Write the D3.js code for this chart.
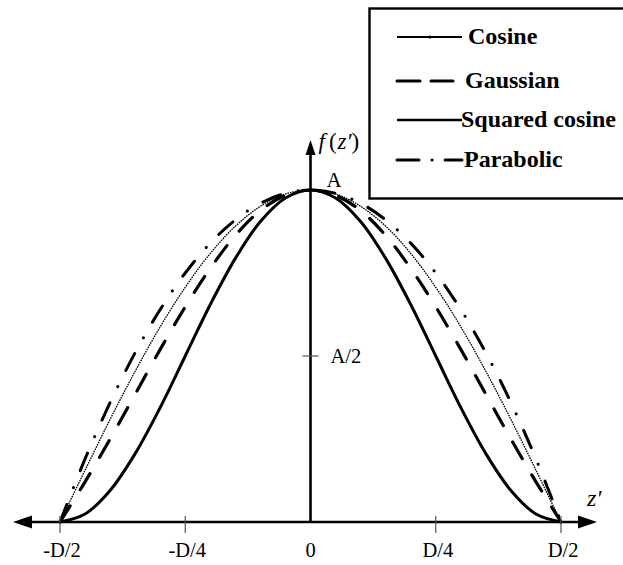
<!DOCTYPE html>
<html>
<head>
<meta charset="utf-8">
<script src="https://cdn.jsdelivr.net/npm/d3@7/dist/d3.min.js"></script>
<style>
  html, body { margin: 0; padding: 0; background: #fff; }
  svg { display: block; }
  text { font-family: "Liberation Serif", "Times New Roman", serif; fill: #000; }
</style>
</head>
<body>
<svg id="chart" width="623" height="565"></svg>
<script>
// Position across the layer, in units of D (from -D/2 to D/2)
const zPos = [-0.5, -0.45, -0.4, -0.35, -0.3, -0.25, -0.2, -0.15, -0.1, -0.05,
              0, 0.05, 0.1, 0.15, 0.2, 0.25, 0.3, 0.35, 0.4, 0.45, 0.5];

// Profile values, relative to the peak A
const cosineVals   = [0, 0.156, 0.309, 0.454, 0.588, 0.707, 0.809, 0.891, 0.951, 0.988,
                      1, 0.988, 0.951, 0.891, 0.809, 0.707, 0.588, 0.454, 0.309, 0.156, 0];
const gaussianVals = [0, 0.121, 0.250, 0.385, 0.520, 0.648, 0.764, 0.863, 0.938, 0.984,
                      1, 0.984, 0.938, 0.863, 0.764, 0.648, 0.520, 0.385, 0.250, 0.121, 0];
const sqCosineVals = [0, 0.024, 0.095, 0.206, 0.345, 0.500, 0.655, 0.794, 0.905, 0.976,
                      1, 0.976, 0.905, 0.794, 0.655, 0.500, 0.345, 0.206, 0.095, 0.024, 0];
const parabolicVals = [0, 0.19, 0.36, 0.51, 0.64, 0.75, 0.84, 0.91, 0.96, 0.99,
                       1, 0.99, 0.96, 0.91, 0.84, 0.75, 0.64, 0.51, 0.36, 0.19, 0];

const seriesNames = ["Cosine", "Gaussian", "Squared cosine", "Parabolic"];

// Axis ticks
const xTickVals   = [-0.5, -0.25, 0, 0.25, 0.5];
const xTickLabels = ["-D/2", "-D/4", "0", "D/4", "D/2"];
const yTickVals   = [0.5, 1];
const yTickLabels = ["A/2", "A"];

const svg = d3.select("#chart");

const x = d3.scaleLinear().domain([-0.5, 0.5]).range([60, 561]);
const y = d3.scaleLinear().domain([0, 1]).range([522, 190]);

const styles = {
  "Cosine":         { width: 1.3, dash: "1.6,0.9", cap: "butt" },
  "Gaussian":       { width: 3.2, dash: "19,19",   cap: "round" },
  "Squared cosine": { width: 3.0, dash: null,      cap: "round" },
  "Parabolic":      { width: 3.0, dash: "19,18,0.1,18", cap: "round" }
};

const seriesData = {
  "Cosine": cosineVals,
  "Gaussian": gaussianVals,
  "Squared cosine": sqCosineVals,
  "Parabolic": parabolicVals
};

const line = d3.line()
  .x(d => x(d[0]))
  .y(d => y(d[1]))
  .curve(d3.curveCatmullRom.alpha(0.5));

// Curves
const curves = svg.append("g").attr("class", "curves");
["Squared cosine", "Gaussian", "Parabolic", "Cosine"].forEach(name => {
  const st = styles[name];
  curves.append("path")
    .datum(zPos.map((z, i) => [z, seriesData[name][i]]))
    .attr("d", line)
    .attr("fill", "none")
    .attr("stroke", "#000")
    .attr("stroke-width", st.width)
    .attr("stroke-linecap", st.cap)
    .attr("stroke-dasharray", st.dash);
});

// Axes
const axes = svg.append("g").attr("class", "axes");
const x0 = x(0), yBase = y(0);
const xLeft = 13, xRight = 597, yTop = 140;

axes.append("line")
  .attr("x1", xLeft + 10).attr("x2", xRight - 10)
  .attr("y1", yBase).attr("y2", yBase)
  .attr("stroke", "#000").attr("stroke-width", 2.6);
axes.append("path")
  .attr("d", `M${xLeft},${yBase} L${xLeft + 19},${yBase - 6.5} L${xLeft + 19},${yBase + 6.5} Z`);
axes.append("path")
  .attr("d", `M${xRight},${yBase} L${xRight - 19},${yBase - 6.5} L${xRight - 19},${yBase + 6.5} Z`);

axes.append("line")
  .attr("x1", x0).attr("x2", x0)
  .attr("y1", yBase).attr("y2", yTop + 10)
  .attr("stroke", "#000").attr("stroke-width", 2.6);
axes.append("path")
  .attr("d", `M${x0},${yTop} L${x0 - 5},${yTop + 15} L${x0 + 5},${yTop + 15} Z`);

// X ticks and labels
xTickVals.forEach((v, i) => {
  if (v !== 0) {
    axes.append("line")
      .attr("x1", x(v)).attr("x2", x(v))
      .attr("y1", yBase - 6).attr("y2", yBase + 11)
      .attr("stroke", "#555").attr("stroke-width", 1.2);
  }
  axes.append("text")
    .attr("x", x(v) + (v === 0 ? 0 : 2))
    .attr("y", 557)
    .attr("text-anchor", "middle")
    .attr("font-size", 20.5)
    .text(xTickLabels[i]);
});

// Y ticks and labels
yTickVals.forEach((v, i) => {
  if (v !== 1) {
    axes.append("line")
      .attr("x1", x0 - 8).attr("x2", x0 + 8)
      .attr("y1", y(v)).attr("y2", y(v))
      .attr("stroke", "#555").attr("stroke-width", 1.2);
    axes.append("text")
      .attr("x", x0 + 20).attr("y", y(v) + 7)
      .attr("font-size", 20.5)
      .text(yTickLabels[i]);
  } else {
    axes.append("text")
      .attr("x", x0 + 16).attr("y", y(v) - 3)
      .attr("font-size", 21)
      .text(yTickLabels[i]);
  }
});

// Axis titles
const fz = axes.append("text")
  .attr("x", x0 + 8).attr("y", 149)
  .attr("font-size", 23);
fz.append("tspan").attr("font-style", "italic").text("f");
fz.append("tspan").attr("dx", 4).text("(");
fz.append("tspan").attr("font-style", "italic").attr("dx", 1).text("z′");
fz.append("tspan").text(")");

axes.append("text")
  .attr("x", 587).attr("y", 506)
  .attr("font-size", 24)
  .attr("font-style", "italic")
  .text("z′");

// Legend
const legend = svg.append("g").attr("class", "legend");
legend.append("rect")
  .attr("x", 369.5).attr("y", 8.5)
  .attr("width", 270).attr("height", 190)
  .attr("fill", "#fff")
  .attr("stroke", "#000").attr("stroke-width", 2.4);

const legendRows = [
  { name: "Cosine",         y: 37,  x2: 462, tx: 468, lw: 2.0, dash: null },
  { name: "Gaussian",       y: 81,  x2: 453, tx: 465, lw: 3.0, dash: "23,11" },
  { name: "Squared cosine", y: 120, x2: 462, tx: 461, lw: 2.6, dash: null },
  { name: "Parabolic",      y: 160, x2: 462, tx: 464, lw: 3.0, dash: "22,13,0.1,13" }
];
legendRows.forEach(r => {
  legend.append("line")
    .attr("x1", 397).attr("x2", r.x2)
    .attr("y1", r.y).attr("y2", r.y)
    .attr("stroke", "#000")
    .attr("stroke-width", r.lw)
    .attr("stroke-linecap", r.dash ? "round" : "butt")
    .attr("stroke-dasharray", r.dash);
  if (r.name === "Cosine") {
    legend.append("circle")
      .attr("cx", 430).attr("cy", r.y).attr("r", 1.6).attr("fill", "#000");
  }
  legend.append("text")
    .attr("x", r.tx).attr("y", r.y + 7)
    .attr("font-size", 24)
    .attr("font-weight", "bold")
    .text(r.name);
});
</script>
</body>
</html>
